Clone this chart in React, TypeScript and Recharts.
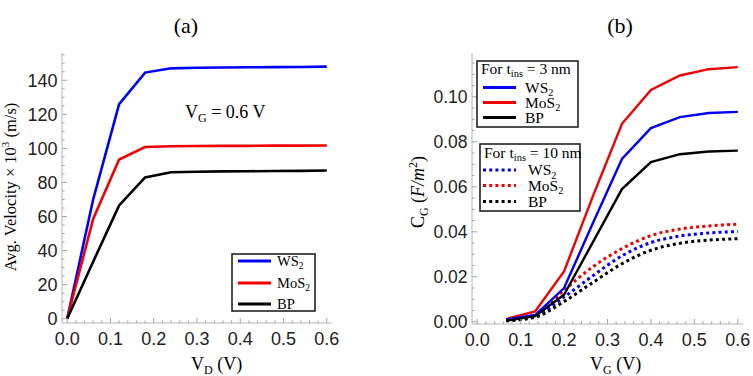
import React from 'react';
import { LineChart, Line, XAxis, YAxis } from 'recharts';

// ---------- Panel (a) data ----------
const vdValues = [0, 0.06, 0.12, 0.18, 0.24, 0.3, 0.36, 0.42, 0.48, 0.54, 0.6];
const ws2Velocity = [0, 70, 126, 144.5, 147, 147.3, 147.5, 147.6, 147.7, 147.8, 148];
const mos2Velocity = [0, 58.6, 93.5, 100.8, 101.3, 101.4, 101.5, 101.5, 101.6, 101.6, 101.7];
const bpVelocity = [0, 33.5, 66.5, 83, 86, 86.3, 86.5, 86.6, 86.7, 86.8, 87];

// ---------- Panel (b) data ----------
const vgValues = [0.0667, 0.1333, 0.2, 0.2667, 0.3333, 0.4, 0.4667, 0.5333, 0.6];
const ws2Cg3nm = [0.001, 0.003, 0.015, 0.044, 0.0724, 0.0861, 0.091, 0.0928, 0.0933];
const mos2Cg3nm = [0.0012, 0.0046, 0.0224, 0.056, 0.088, 0.1031, 0.1095, 0.1123, 0.1132];
const bpCg3nm = [0.0005, 0.0025, 0.012, 0.0355, 0.059, 0.071, 0.0745, 0.0757, 0.0761];
const ws2Cg10nm = [0.0008, 0.0025, 0.011, 0.0205, 0.0293, 0.0352, 0.0381, 0.0395, 0.0401];
const mos2Cg10nm = [0.001, 0.003, 0.014, 0.0245, 0.0325, 0.0383, 0.0412, 0.0426, 0.0434];
const bpCg10nm = [0.0004, 0.002, 0.009, 0.0175, 0.0258, 0.0318, 0.0349, 0.0363, 0.0369];

// ---------- Ticks ----------
const xMajorTicks = [0, 0.1, 0.2, 0.3, 0.4, 0.5, 0.6];
const xMinorTicks = [0, 0.02, 0.04, 0.06, 0.08, 0.1, 0.12, 0.14, 0.16, 0.18, 0.2, 0.22, 0.24, 0.26, 0.28, 0.3,
  0.32, 0.34, 0.36, 0.38, 0.4, 0.42, 0.44, 0.46, 0.48, 0.5, 0.52, 0.54, 0.56, 0.58, 0.6];
const yMajorTicksA = [0, 20, 40, 60, 80, 100, 120, 140];
const yMinorTicksA = [0, 5, 10, 15, 20, 25, 30, 35, 40, 45, 50, 55, 60, 65, 70, 75, 80, 85, 90, 95, 100,
  105, 110, 115, 120, 125, 130, 135, 140, 145, 150, 155];
const yMajorTicksB = [0, 0.02, 0.04, 0.06, 0.08, 0.1];
const yMinorTicksB = [0, 0.005, 0.01, 0.015, 0.02, 0.025, 0.03, 0.035, 0.04, 0.045, 0.05, 0.055, 0.06,
  0.065, 0.07, 0.075, 0.08, 0.085, 0.09, 0.095, 0.1, 0.105, 0.11, 0.115];

const dataA = vdValues.map((vd, i) => ({ vd, ws2: ws2Velocity[i], mos2: mos2Velocity[i], bp: bpVelocity[i] }));
const dataB = vgValues.map((vg, i) => ({
  vg,
  ws2t: ws2Cg3nm[i], mos2t: mos2Cg3nm[i], bpt: bpCg3nm[i],
  ws2d: ws2Cg10nm[i], mos2d: mos2Cg10nm[i], bpd: bpCg10nm[i],
}));

const BLUE = '#0000f5';
const RED = '#f00000';
const BLACK = '#000000';
const FRAME = '#b4b4b4';
const TICK = '#9a9a9a';
const SANS = '"Liberation Sans", Arial, sans-serif';
const SERIF = '"Liberation Serif", "Times New Roman", serif';
const DOT = '3 3.2';

const isIn = (arr: number[], v: number) => arr.some((m) => Math.abs(m - v) < 1e-9);

const makeXTick = (majors: number[], side: 'bottom' | 'top', fmt: (v: number) => string) => (props: any) => {
  const { x, y, payload } = props;
  const v = payload.value;
  const major = isIn(majors, v);
  const len = major ? 5 : 2.6;
  const dir = side === 'bottom' ? -1 : 1;
  return (
    <g>
      <line x1={x} x2={x} y1={y} y2={y + dir * len} stroke={TICK} strokeWidth={0.9} />
      {side === 'bottom' && major && (
        <text x={x} y={y + 21.5} textAnchor="middle" fontFamily={SANS} fontSize={18} fill="#222">
          {fmt(v)}
        </text>
      )}
    </g>
  );
};

const makeYTick = (majors: number[], side: 'left' | 'right', fmt: (v: number) => string, fs: number) => (props: any) => {
  const { x, y, payload } = props;
  const v = payload.value;
  const major = isIn(majors, v);
  const len = major ? 5 : 2.6;
  const dir = side === 'left' ? 1 : -1;
  return (
    <g>
      <line x1={x} x2={x + dir * len} y1={y} y2={y} stroke={TICK} strokeWidth={0.9} />
      {side === 'left' && major && (
        <text x={x - 4.5} y={y + fs * 0.36} textAnchor="end" fontFamily={SANS} fontSize={fs} fill="#222">
          {fmt(v)}
        </text>
      )}
    </g>
  );
};

const fmt1 = (v: number) => v.toFixed(1);
const fmt0 = (v: number) => v.toFixed(0);
const fmt2 = (v: number) => v.toFixed(2);

const axisLine = { stroke: FRAME, strokeWidth: 1 };

function PanelA() {
  const xDomain: [number, number] = [-0.012, 0.612];
  const yDomain: [number, number] = [-2.5, 156];
  return (
    <LineChart width={376} height={376} data={dataA} margin={{ top: 53, right: 44, bottom: 0, left: 0 }}
      style={{ position: 'absolute', left: 0, top: 0 }}>
      <XAxis xAxisId="b" dataKey="vd" type="number" domain={xDomain} ticks={xMinorTicks} interval={0}
        allowDataOverflow height={53} tickLine={false} tickSize={0} tickMargin={0} axisLine={axisLine}
        tick={makeXTick(xMajorTicks, 'bottom', fmt1)} />
      <XAxis xAxisId="t" orientation="top" dataKey="vd" type="number" domain={xDomain} ticks={xMinorTicks}
        interval={0} allowDataOverflow height={0} tickLine={false} tickSize={0} tickMargin={0} axisLine={axisLine}
        tick={makeXTick(xMajorTicks, 'top', fmt1)} />
      <YAxis yAxisId="l" type="number" domain={yDomain} ticks={yMinorTicksA} interval={0} allowDataOverflow
        width={62} tickLine={false} tickSize={0} tickMargin={0} axisLine={axisLine}
        tick={makeYTick(yMajorTicksA, 'left', fmt0, 18)} />
      <YAxis yAxisId="r" orientation="right" type="number" domain={yDomain} ticks={yMinorTicksA} interval={0}
        allowDataOverflow width={0} tickLine={false} tickSize={0} tickMargin={0} axisLine={axisLine}
        tick={makeYTick(yMajorTicksA, 'right', fmt0, 18)} />
      <Line xAxisId="b" yAxisId="l" type="linear" dataKey="ws2" stroke={BLUE} strokeWidth={2.6} dot={false} isAnimationActive={false} />
      <Line xAxisId="b" yAxisId="l" type="linear" dataKey="mos2" stroke={RED} strokeWidth={2.6} dot={false} isAnimationActive={false} />
      <Line xAxisId="b" yAxisId="l" type="linear" dataKey="bp" stroke={BLACK} strokeWidth={2.6} dot={false} isAnimationActive={false} />
    </LineChart>
  );
}

function PanelB() {
  const xDomain: [number, number] = [-0.012, 0.612];
  const yDomain: [number, number] = [-0.001, 0.1195];
  return (
    <LineChart width={377} height={376} data={dataB} margin={{ top: 53, right: 10, bottom: 0, left: 0 }}
      style={{ position: 'absolute', left: 376, top: 0 }}>
      <XAxis xAxisId="b" dataKey="vg" type="number" domain={xDomain} ticks={xMinorTicks} interval={0}
        allowDataOverflow height={52} tickLine={false} tickSize={0} tickMargin={0} axisLine={axisLine}
        tick={makeXTick(xMajorTicks, 'bottom', fmt1)} />
      <XAxis xAxisId="t" orientation="top" dataKey="vg" type="number" domain={xDomain} ticks={xMinorTicks}
        interval={0} allowDataOverflow height={0} tickLine={false} tickSize={0} tickMargin={0} axisLine={axisLine}
        tick={makeXTick(xMajorTicks, 'top', fmt1)} />
      <YAxis yAxisId="l" type="number" domain={yDomain} ticks={yMinorTicksB} interval={0} allowDataOverflow
        width={96} tickLine={false} tickSize={0} tickMargin={0} axisLine={axisLine}
        tick={makeYTick(yMajorTicksB, 'left', fmt2, 17.5)} />
      <YAxis yAxisId="r" orientation="right" type="number" domain={yDomain} ticks={yMinorTicksB} interval={0}
        allowDataOverflow width={0} tickLine={false} tickSize={0} tickMargin={0} axisLine={axisLine}
        tick={makeYTick(yMajorTicksB, 'right', fmt2, 17.5)} />
      <Line xAxisId="b" yAxisId="l" type="monotone" dataKey="mos2d" stroke={RED} strokeWidth={3} strokeDasharray={DOT} dot={false} isAnimationActive={false} />
      <Line xAxisId="b" yAxisId="l" type="monotone" dataKey="ws2d" stroke={BLUE} strokeWidth={3} strokeDasharray={DOT} dot={false} isAnimationActive={false} />
      <Line xAxisId="b" yAxisId="l" type="monotone" dataKey="bpd" stroke={BLACK} strokeWidth={3} strokeDasharray={DOT} dot={false} isAnimationActive={false} />
      <Line xAxisId="b" yAxisId="l" type="linear" dataKey="mos2t" stroke={RED} strokeWidth={2.4} dot={false} isAnimationActive={false} />
      <Line xAxisId="b" yAxisId="l" type="linear" dataKey="ws2t" stroke={BLUE} strokeWidth={2.4} dot={false} isAnimationActive={false} />
      <Line xAxisId="b" yAxisId="l" type="linear" dataKey="bpt" stroke={BLACK} strokeWidth={2.4} dot={false} isAnimationActive={false} />
    </LineChart>
  );
}

function LegendRow({ x, y, color, dashed, label, tx, fs }: any) {
  return (
    <g>
      <line x1={x} x2={x + 33} y1={y} y2={y} stroke={color} strokeWidth={3} strokeDasharray={dashed ? DOT : undefined} />
      {label === 'BP' ? (
        <text x={tx} y={y + fs * 0.33} fontFamily={SERIF} fontSize={fs}>BP</text>
      ) : (
        <text x={tx} y={y + fs * 0.33} fontFamily={SERIF} fontSize={fs}>
          {label}
          <tspan fontSize={fs * 0.66} dy={fs * 0.25}>2</tspan>
        </text>
      )}
    </g>
  );
}

function Overlay() {
  return (
    <svg width={753} height={376} style={{ position: 'absolute', left: 0, top: 0, pointerEvents: 'none' }}>
      {/* titles */}
      <text x={186} y={33} textAnchor="middle" fontFamily={SERIF} fontSize={22}>(a)</text>
      <text x={620} y={33} textAnchor="middle" fontFamily={SERIF} fontSize={22}>(b)</text>

      {/* axis labels panel a */}
      <text x={191} y={370} fontFamily={SERIF} fontSize={18}>
        V<tspan fontSize={12} dy={4}>D</tspan><tspan dy={-4}> (V)</tspan>
      </text>
      <text transform="rotate(-90)" x={-187} y={16} textAnchor="middle" fontFamily={SERIF} fontSize={16.5}>
        Avg. Velocity × 10<tspan fontSize={11} dy={-7}>3</tspan><tspan dy={7}> (m/s)</tspan>
      </text>
      <text x={185} y={118} fontFamily={SERIF} fontSize={18}>
        V<tspan fontSize={12} dy={4}>G</tspan><tspan dy={-4}> = 0.6 V</tspan>
      </text>

      {/* axis labels panel b */}
      <text x={590} y={370} fontFamily={SERIF} fontSize={18}>
        V<tspan fontSize={12} dy={4}>G</tspan><tspan dy={-4}> (V)</tspan>
      </text>
      <text transform="rotate(-90)" x={-192} y={424} textAnchor="middle" fontFamily={SERIF} fontSize={18}>
        C<tspan fontSize={12} dy={4}>G</tspan><tspan dy={-4}> (</tspan><tspan fontStyle="italic">F/m</tspan>
        <tspan fontSize={12} dy={-7}>2</tspan><tspan dy={7}>)</tspan>
      </text>

      {/* legend panel a */}
      <rect x={232} y={254} width={83} height={57} fill="white" stroke="#222" strokeWidth={1.6} />
      <LegendRow x={238} y={261} color={BLUE} label="WS" tx={277} fs={14.5} />
      <LegendRow x={238} y={283} color={RED} label="MoS" tx={277} fs={14.5} />
      <LegendRow x={238} y={304} color={BLACK} label="BP" tx={277} fs={14.5} />

      {/* legend 1 panel b */}
      <rect x={477} y={61} width={101} height={66} fill="white" stroke="#222" strokeWidth={1.6} />
      <text x={481} y={74} fontFamily={SERIF} fontSize={15.5}>
        For t<tspan fontSize={10.5} dy={3}>ins</tspan><tspan dy={-3}> = 3 nm</tspan>
      </text>
      <LegendRow x={483} y={87.5} color={BLUE} label="WS" tx={525} fs={15.5} />
      <LegendRow x={483} y={102.5} color={RED} label="MoS" tx={525} fs={15.5} />
      <LegendRow x={483} y={117.5} color={BLACK} label="BP" tx={525} fs={15.5} />

      {/* legend 2 panel b */}
      <rect x={480} y={144} width={100} height={67} fill="white" stroke="#222" strokeWidth={1.6} />
      <text x={484} y={158} fontFamily={SERIF} fontSize={15.5}>
        For t<tspan fontSize={10.5} dy={3}>ins</tspan><tspan dy={-3}> = 10 nm</tspan>
      </text>
      <LegendRow x={483} y={170} color={BLUE} dashed label="WS" tx={528} fs={15.5} />
      <LegendRow x={483} y={185.5} color={RED} dashed label="MoS" tx={528} fs={15.5} />
      <LegendRow x={483} y={201.5} color={BLACK} dashed label="BP" tx={528} fs={15.5} />
    </svg>
  );
}

export default function App() {
  return (
    <div style={{ position: 'absolute', left: 0, top: 0, width: 753, height: 376, background: 'white', overflow: 'hidden' }}>
      <PanelA />
      <PanelB />
      <Overlay />
    </div>
  );
}
